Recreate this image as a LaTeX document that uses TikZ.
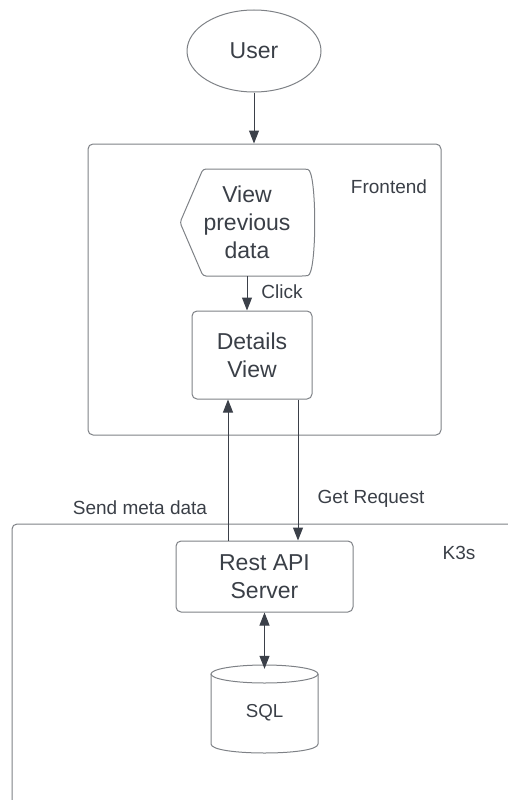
\documentclass[tikz,border=0pt]{standalone}
\usepackage{fontspec}
\setmainfont{Liberation Sans}
\usetikzlibrary{arrows.meta,shapes.geometric}
\definecolor{edgegray}{HTML}{7E8186}
\definecolor{inkdark}{HTML}{3A3F47}
\definecolor{arrowdark}{HTML}{3B4049}
\tikzset{
  bigtext/.style={font=\fontsize{23}{28}\selectfont, text=inkdark, align=center},
  labeltext/.style={font=\fontsize{19}{23}\selectfont, text=inkdark},
  shapeline/.style={draw=edgegray, line width=1pt},
  roundbox/.style={shapeline, rounded corners=5pt, bigtext, inner sep=0pt},
  flow/.style={draw=arrowdark, line width=1pt, -{Triangle[length=13pt,width=10pt]}},
  flowboth/.style={draw=arrowdark, line width=1pt,
    {Triangle[length=13pt,width=10pt]}-{Triangle[length=13pt,width=10pt]}},
}
\begin{document}
\begin{tikzpicture}[x=1pt,y=-1pt]
  \useasboundingbox (0,0) rectangle (508,800);

  % user
  \node[ellipse, shapeline, bigtext, minimum width=134pt, minimum height=82pt, inner sep=0pt]
    (user) at (254,51) {User};

  % frontend container
  \node[shapeline, rounded corners=5pt, minimum width=353pt, minimum height=291pt, inner sep=0pt]
    (frontend) at (264.5,289.5) {};
  \node[labeltext] (frontendlabel) at (389,187) {Frontend};

  % display shape holding the previous data view
  \node[bigtext, minimum width=134pt, minimum height=107pt, inner sep=0pt]
    (view) at (247,222.5) {View\\previous\\data};
  \draw[shapeline, rounded corners=3pt]
    (180,222.5) -- (203,169) -- (305,169)
    .. controls (317,171) and (317,274) .. (305,276)
    -- (203,276) -- cycle;

  % details view
  \node[roundbox, minimum width=120pt, minimum height=88pt]
    (details) at (252,355) {Details\\View};
  \node[labeltext] (clicklabel) at (282,292) {Click};

  % k3s cluster boundary (open towards right and bottom)
  \coordinate (k3sbottom) at (12,801);
  \coordinate (k3sright) at (509,524);
  \draw[shapeline, rounded corners=5pt] (k3sbottom) -- (12,524) -- (k3sright);
  \node[labeltext] (k3slabel) at (459,553) {K3s};

  % rest api server
  \node[roundbox, minimum width=177pt, minimum height=71pt]
    (rest) at (264.5,576.5) {Rest API\\Server};

  % sql database: a cylinder drawn around its label
  \node[font=\fontsize{18.7}{22}\selectfont, text=inkdark, minimum width=107pt,
        minimum height=88pt, inner sep=0pt] (sql) at (264.5,713) {SQL};
  \draw[shapeline] (264.5,674) ellipse [x radius=53.5pt, y radius=9pt];
  \draw[shapeline] (211,674) -- (211,744)
    .. controls (211,756) and (318,756) .. (318,744)
    -- (318,674);

  % connectors
  \draw[flow] (user.south) -- (frontend.north -| user.south);
  \draw[flow] (view.south) -- (view.south |- details.north);
  \draw[flow] ([xshift=-24pt]details.south |- rest.north) -- ([xshift=-24pt]details.south);
  \draw[flow] ([xshift=46pt]details.south) -- ([xshift=46pt]details.south |- rest.north);
  \draw[flowboth] (rest.south) -- (rest.south |- sql.north);

  \node[labeltext] (sendlabel) at (140,508) {Send meta data};
  \node[labeltext] (getlabel) at (371,499) {Get Request};
\end{tikzpicture}
\end{document}
